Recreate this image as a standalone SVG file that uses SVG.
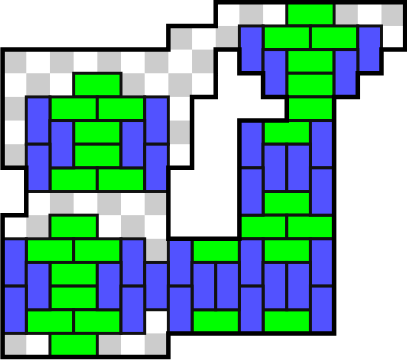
<svg xmlns="http://www.w3.org/2000/svg" width="407" height="360" viewBox="0 0 407 360">
<style>
.c{fill:#cccccc;stroke:none}
.g{fill:#00ff00;stroke:#111;stroke-width:0.125}
.b{fill:#5252ff;stroke:#111;stroke-width:0.125}
.o{fill:none;stroke:#000;stroke-width:0.19;stroke-linejoin:miter}
</style>
<rect x="0" y="0" width="407" height="360" fill="#ffffff"/>
<g transform="translate(2.6 2.3) scale(23.68 23.65)">
<g id="checker">
<rect class="c" x="10" y="0" width="1" height="1"/><rect class="c" x="14" y="0" width="1" height="1"/><rect class="c" x="16" y="0" width="1" height="1"/>
<rect class="c" x="7" y="1" width="1" height="1"/><rect class="c" x="9" y="1" width="1" height="1"/>
<rect class="c" x="0" y="2" width="1" height="1"/><rect class="c" x="2" y="2" width="1" height="1"/><rect class="c" x="4" y="2" width="1" height="1"/><rect class="c" x="6" y="2" width="1" height="1"/><rect class="c" x="8" y="2" width="1" height="1"/>
<rect class="c" x="1" y="3" width="1" height="1"/><rect class="c" x="5" y="3" width="1" height="1"/><rect class="c" x="7" y="3" width="1" height="1"/>
<rect class="c" x="0" y="4" width="1" height="1"/>
<rect class="c" x="7" y="5" width="1" height="1"/>
<rect class="c" x="0" y="6" width="1" height="1"/>
<rect class="c" x="2" y="8" width="1" height="1"/><rect class="c" x="4" y="8" width="1" height="1"/><rect class="c" x="6" y="8" width="1" height="1"/>
<rect class="c" x="1" y="9" width="1" height="1"/><rect class="c" x="5" y="9" width="1" height="1"/>
<rect class="c" x="6" y="10" width="1" height="1"/>
<rect class="c" x="0" y="14" width="1" height="1"/><rect class="c" x="4" y="14" width="1" height="1"/><rect class="c" x="6" y="14" width="1" height="1"/>
</g>
<g id="dominoes">
<rect class="g" x="12" y="0" width="2" height="1"/>
<rect class="g" x="11" y="1" width="2" height="1"/>
<rect class="g" x="13" y="1" width="2" height="1"/>
<rect class="g" x="12" y="2" width="2" height="1"/>
<rect class="g" x="12" y="3" width="2" height="1"/>
<rect class="g" x="12" y="4" width="2" height="1"/>
<rect class="g" x="11" y="5" width="2" height="1"/>
<rect class="g" x="11" y="8" width="2" height="1"/>
<rect class="g" x="10" y="9" width="2" height="1"/>
<rect class="g" x="12" y="9" width="2" height="1"/>
<rect class="g" x="11" y="10" width="2" height="1"/>
<rect class="g" x="11" y="13" width="2" height="1"/>
<rect class="g" x="3" y="3" width="2" height="1"/>
<rect class="g" x="2" y="4" width="2" height="1"/>
<rect class="g" x="4" y="4" width="2" height="1"/>
<rect class="g" x="3" y="5" width="2" height="1"/>
<rect class="g" x="3" y="6" width="2" height="1"/>
<rect class="g" x="2" y="7" width="2" height="1"/>
<rect class="g" x="4" y="7" width="2" height="1"/>
<rect class="g" x="2" y="9" width="2" height="1"/>
<rect class="g" x="1" y="10" width="2" height="1"/>
<rect class="g" x="3" y="10" width="2" height="1"/>
<rect class="g" x="2" y="11" width="2" height="1"/>
<rect class="g" x="2" y="12" width="2" height="1"/>
<rect class="g" x="1" y="13" width="2" height="1"/>
<rect class="g" x="3" y="13" width="2" height="1"/>
<rect class="g" x="2" y="14" width="2" height="1"/>
<rect class="g" x="8" y="10" width="2" height="1"/>
<rect class="g" x="8" y="13" width="2" height="1"/>
<rect class="b" x="10" y="1" width="1" height="2"/>
<rect class="b" x="15" y="1" width="1" height="2"/>
<rect class="b" x="11" y="2" width="1" height="2"/>
<rect class="b" x="14" y="2" width="1" height="2"/>
<rect class="b" x="10" y="5" width="1" height="2"/>
<rect class="b" x="13" y="5" width="1" height="2"/>
<rect class="b" x="11" y="6" width="1" height="2"/>
<rect class="b" x="12" y="6" width="1" height="2"/>
<rect class="b" x="10" y="7" width="1" height="2"/>
<rect class="b" x="13" y="7" width="1" height="2"/>
<rect class="b" x="10" y="10" width="1" height="2"/>
<rect class="b" x="13" y="10" width="1" height="2"/>
<rect class="b" x="11" y="11" width="1" height="2"/>
<rect class="b" x="12" y="11" width="1" height="2"/>
<rect class="b" x="10" y="12" width="1" height="2"/>
<rect class="b" x="13" y="12" width="1" height="2"/>
<rect class="b" x="1" y="4" width="1" height="2"/>
<rect class="b" x="6" y="4" width="1" height="2"/>
<rect class="b" x="2" y="5" width="1" height="2"/>
<rect class="b" x="5" y="5" width="1" height="2"/>
<rect class="b" x="1" y="6" width="1" height="2"/>
<rect class="b" x="6" y="6" width="1" height="2"/>
<rect class="b" x="0" y="10" width="1" height="2"/>
<rect class="b" x="5" y="10" width="1" height="2"/>
<rect class="b" x="7" y="10" width="1" height="2"/>
<rect class="b" x="1" y="11" width="1" height="2"/>
<rect class="b" x="4" y="11" width="1" height="2"/>
<rect class="b" x="6" y="11" width="1" height="2"/>
<rect class="b" x="8" y="11" width="1" height="2"/>
<rect class="b" x="9" y="11" width="1" height="2"/>
<rect class="b" x="0" y="12" width="1" height="2"/>
<rect class="b" x="5" y="12" width="1" height="2"/>
<rect class="b" x="7" y="12" width="1" height="2"/>
</g>
<path id="outline" class="o" d="M0,2 H7 V1 H9 V0 H17 V2 H16 V3 H15 V4 H14 V14 H7 V15 H0 V9 H1 V7 H0 Z M9,2 V4 H8 V7 H7 V10 H10 V5 H12 V4 H11 V3 H10 V2 Z"/>
</g>
</svg>
